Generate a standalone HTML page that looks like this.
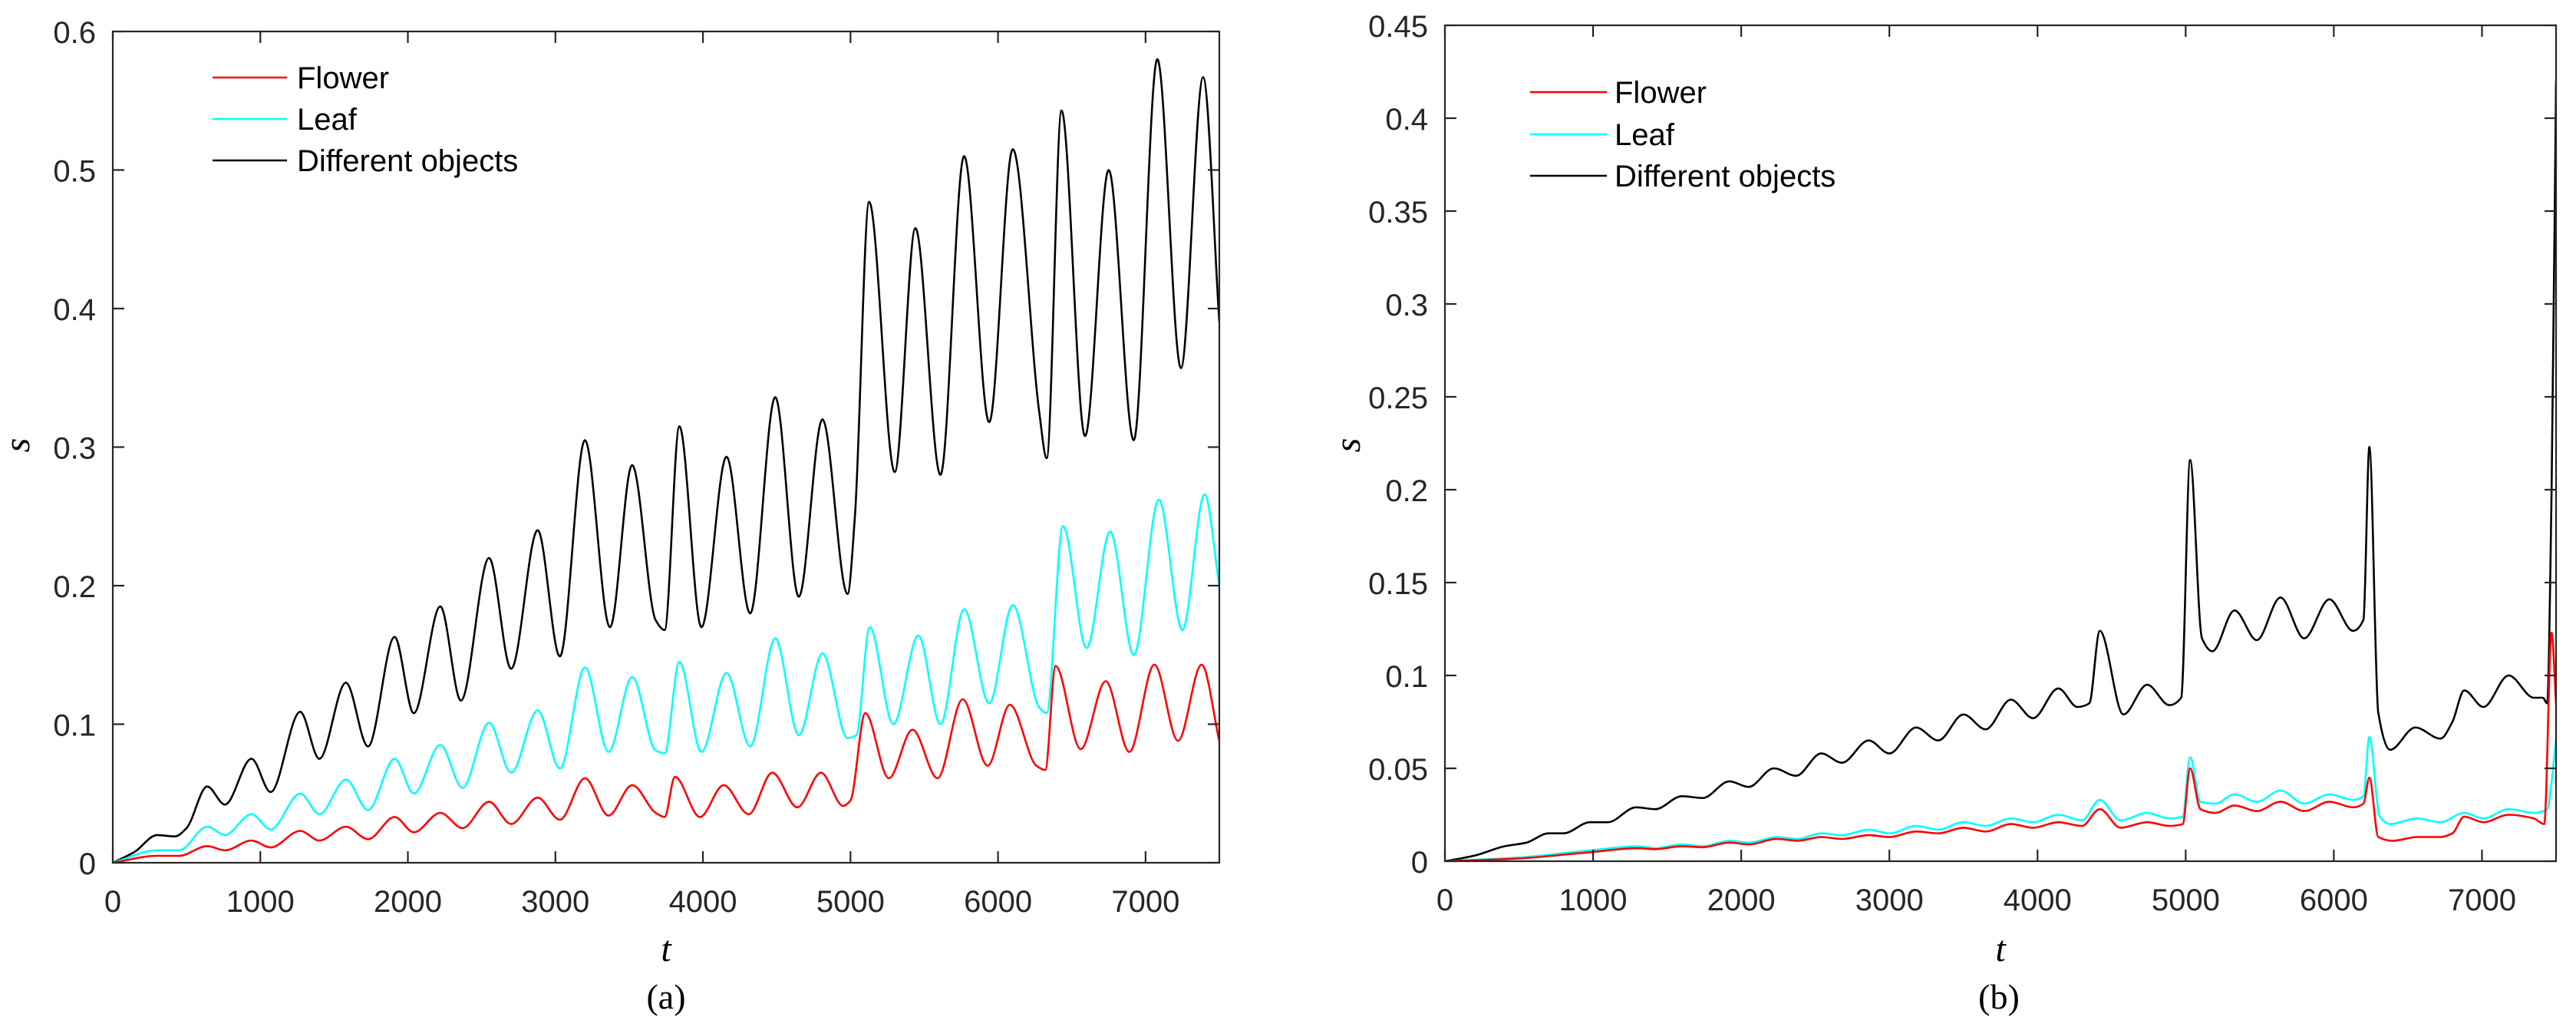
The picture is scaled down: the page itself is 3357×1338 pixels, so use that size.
<!DOCTYPE html>
<html><head><meta charset="utf-8"><style>
html,body{margin:0;padding:0;background:#fff;}
svg{display:block;}
text{font-family:"Liberation Sans",sans-serif;fill:#262626;}
.tk{font-size:40px;}
.lg{font-size:40px;fill:#000;}
.ser{font-family:"Liberation Serif",serif;font-style:italic;font-size:48px;fill:#000;}
.cap{font-family:"Liberation Serif",serif;font-size:46px;fill:#000;}
</style></head><body>
<svg id="chart" width="3357" height="1338" viewBox="0 0 3357 1338" xmlns="http://www.w3.org/2000/svg"></svg>
<script>
// ---- Panel (a) data ----
const aBlackT=[0,150,300,420,500,640,760,940,1070,1270,1400,1580,1730,1910,2040,2220,2360,2550,2700,2880,3030,3200,3370,3520,3680,3740,3840,3990,4160,4320,4490,4650,4810,4980,5030,5126,5300,5440,5610,5770,5940,6100,6280,6330,6430,6590,6750,6920,7080,7240,7390,7500];
const aBlackV=[0,0.008,0.020,0.019,0.025,0.055,0.042,0.075,0.051,0.109,0.075,0.130,0.084,0.163,0.108,0.185,0.117,0.220,0.140,0.240,0.149,0.305,0.170,0.287,0.175,0.168,0.315,0.170,0.293,0.180,0.336,0.192,0.320,0.194,0.250,0.477,0.282,0.458,0.280,0.510,0.318,0.515,0.325,0.292,0.543,0.308,0.500,0.305,0.580,0.357,0.567,0.390];
const aCyanT=[0,300,450,640,760,940,1070,1270,1400,1580,1730,1910,2040,2220,2370,2550,2700,2880,3030,3200,3360,3520,3680,3740,3840,3990,4160,4320,4490,4650,4810,4980,5040,5130,5290,5460,5610,5770,5940,6100,6280,6330,6440,6600,6760,6920,7090,7250,7400,7500];
const aCyanV=[0,0.009,0.009,0.026,0.020,0.035,0.024,0.050,0.035,0.060,0.038,0.075,0.050,0.085,0.054,0.101,0.065,0.110,0.068,0.141,0.080,0.134,0.081,0.079,0.145,0.080,0.137,0.084,0.162,0.092,0.151,0.090,0.092,0.170,0.100,0.164,0.100,0.183,0.115,0.186,0.112,0.108,0.243,0.155,0.239,0.150,0.262,0.168,0.266,0.200];
const aRedT=[0,300,450,640,760,940,1070,1270,1400,1580,1730,1910,2040,2220,2370,2550,2700,2880,3030,3200,3360,3520,3680,3740,3810,3980,4140,4310,4470,4640,4800,4950,5000,5100,5260,5420,5590,5760,5930,6080,6260,6320,6390,6560,6730,6890,7060,7220,7380,7500];
const aRedV=[0,0.005,0.005,0.012,0.009,0.016,0.011,0.023,0.016,0.026,0.017,0.033,0.022,0.036,0.025,0.044,0.028,0.047,0.031,0.061,0.034,0.056,0.036,0.033,0.062,0.033,0.056,0.035,0.065,0.040,0.065,0.041,0.045,0.108,0.061,0.096,0.061,0.118,0.070,0.114,0.070,0.067,0.142,0.082,0.131,0.080,0.143,0.088,0.143,0.088];
const aYTicks=[0,0.1,0.2,0.3,0.4,0.5,0.6];
const aYLabels=["0","0.1","0.2","0.3","0.4","0.5","0.6"];
// ---- Panel (b) data ----
const bBlackT=[0,200,400,550,700,800,980,1100,1290,1420,1600,1740,1920,2050,2220,2370,2540,2680,2860,3000,3180,3330,3500,3650,3820,3970,4140,4270,4350,4420,4580,4740,4890,4970,5030,5110,5180,5330,5480,5640,5800,5970,6130,6200,6240,6300,6380,6550,6720,6800,6880,7010,7180,7350,7410,7440,7470,7500];
const bBlackV=[0,0.003,0.008,0.010,0.015,0.015,0.021,0.021,0.029,0.028,0.035,0.034,0.043,0.040,0.050,0.046,0.058,0.053,0.065,0.058,0.072,0.065,0.079,0.071,0.087,0.077,0.093,0.083,0.085,0.124,0.079,0.095,0.084,0.088,0.216,0.120,0.113,0.135,0.119,0.142,0.120,0.141,0.124,0.130,0.223,0.080,0.060,0.072,0.066,0.075,0.092,0.083,0.100,0.088,0.088,0.085,0.200,0.420];
const bCyanT=[0,500,1000,1300,1420,1600,1740,1920,2050,2240,2380,2540,2680,2860,3000,3180,3330,3500,3650,3820,3970,4140,4300,4420,4560,4740,4890,4980,5030,5100,5200,5330,5480,5640,5800,5970,6130,6200,6240,6310,6380,6560,6720,6880,7010,7180,7350,7440,7500];
const bCyanV=[0,0.002,0.006,0.008,0.007,0.009,0.008,0.011,0.010,0.013,0.012,0.015,0.014,0.017,0.015,0.019,0.017,0.021,0.019,0.023,0.021,0.025,0.022,0.033,0.022,0.026,0.023,0.024,0.056,0.032,0.031,0.036,0.032,0.038,0.031,0.036,0.033,0.035,0.067,0.024,0.020,0.023,0.021,0.026,0.023,0.028,0.026,0.028,0.065];
const bRedT=[0,500,1000,1300,1420,1600,1740,1920,2050,2240,2380,2540,2680,2860,3000,3180,3330,3500,3650,3820,3970,4140,4300,4420,4560,4740,4890,4980,5030,5100,5200,5330,5480,5640,5800,5970,6130,6200,6240,6300,6400,6560,6720,6800,6880,7010,7180,7350,7420,7470,7500];
const bRedV=[0,0.0015,0.005,0.007,0.0065,0.008,0.0075,0.010,0.009,0.012,0.011,0.013,0.012,0.014,0.013,0.016,0.015,0.018,0.016,0.020,0.018,0.021,0.019,0.028,0.018,0.021,0.019,0.020,0.050,0.028,0.026,0.030,0.027,0.032,0.027,0.032,0.029,0.031,0.045,0.013,0.011,0.013,0.013,0.015,0.024,0.021,0.025,0.023,0.020,0.123,0.085];
const bYTicks=[0,0.05,0.1,0.15,0.2,0.25,0.3,0.35,0.4,0.45];
const bYLabels=["0","0.05","0.1","0.15","0.2","0.25","0.3","0.35","0.4","0.45"];
const xTicks=[0,1000,2000,3000,4000,5000,6000,7000];
const xLabels=["0","1000","2000","3000","4000","5000","6000","7000"];
const legendNames=["Flower","Leaf","Different objects"];

const NS="http://www.w3.org/2000/svg";
const svg=document.getElementById('chart');
function mk(tag,attrs,parent){const e=document.createElementNS(NS,tag);for(const k in attrs)e.setAttribute(k,attrs[k]);(parent||svg).appendChild(e);return e;}

function monoPath(px,py){
  const n=px.length;const d=[],m=new Array(n);
  for(let i=0;i<n-1;i++)d.push((py[i+1]-py[i])/(px[i+1]-px[i]));
  m[0]=d[0];m[n-1]=d[n-2];
  for(let i=1;i<n-1;i++){ if(d[i-1]*d[i]<=0)m[i]=0; else{const h0=px[i]-px[i-1],h1=px[i+1]-px[i];const w1=2*h1+h0,w2=h1+2*h0;m[i]=(w1+w2)/(w1/d[i-1]+w2/d[i]);} }
  let s="M"+px[0].toFixed(1)+","+py[0].toFixed(1);
  for(let i=0;i<n-1;i++){const h=(px[i+1]-px[i])/3;
    s+=" C"+(px[i]+h).toFixed(1)+","+(py[i]+m[i]*h).toFixed(1)+" "+(px[i+1]-h).toFixed(1)+","+(py[i+1]-m[i+1]*h).toFixed(1)+" "+px[i+1].toFixed(1)+","+py[i+1].toFixed(1);}
  return s;
}

function panel(cfg){
  const g=mk('g',{});
  
  
  const L=cfg.L,R=cfg.R,T=cfg.T,B=cfg.B;
  const xs=t=>L+(t/7500)*(R-L);
  const ys=v=>B-(v/cfg.ymax)*(B-T);
  const clip=mk('clipPath',{id:cfg.id+'clip'},g);mk('rect',{x:L,y:T,width:R-L,height:B-T},clip);
  // series
  const series=[[cfg.redT,cfg.redV,'#ff0000','flower-line'],[cfg.cyanT,cfg.cyanV,'#00ffff','leaf-line'],[cfg.blackT,cfg.blackV,'#000000','different-objects-line']];
  const sg=mk('g',{'clip-path':'url(#'+cfg.id+'clip)'},g);
  for(const s of [series[2],series[1],series[0]]){
    const p=mk('path',{d:monoPath(s[0].map(xs),s[1].map(ys)),fill:'none',stroke:s[2],'stroke-width':2.6,'stroke-linejoin':'round'},sg);
    
    
  }
  // box
  const box=mk('rect',{x:L,y:T,width:R-L,height:B-T,fill:'none',stroke:'#262626','stroke-width':2.2},g);
  
  
  const tl=15;
  xTicks.forEach((t,i)=>{const x=xs(t);
    mk('line',{x1:x,y1:B,x2:x,y2:B-tl,stroke:'#262626','stroke-width':2.2},g);
    mk('line',{x1:x,y1:T,x2:x,y2:T+tl,stroke:'#262626','stroke-width':2.2},g);
    const tx=mk('text',{x:x,y:B+64,'text-anchor':'middle',class:'tk'},g);tx.textContent=xLabels[i];
    
    
  });
  cfg.yTicks.forEach((v,i)=>{const y=ys(v);
    mk('line',{x1:L,y1:y,x2:L+tl,y2:y,stroke:'#262626','stroke-width':2.2},g);
    mk('line',{x1:R,y1:y,x2:R-tl,y2:y,stroke:'#262626','stroke-width':2.2},g);
    const tx=mk('text',{x:L-22,y:y+15,'text-anchor':'end',class:'tk'},g);tx.textContent=cfg.yLabels[i];
    
    
  });
  const xt=mk('text',{x:(L+R)/2,y:1252,'text-anchor':'middle',class:'ser'},g);xt.textContent='t';
  
  
  const yt=mk('text',{x:0,y:0,'text-anchor':'middle',class:'ser',transform:'translate('+cfg.sx+','+cfg.sy+') rotate(-90)'},g);yt.textContent='s';
  
  
  const cp=mk('text',{x:cfg.capX,y:1314,'text-anchor':'middle',class:'cap'},g);cp.textContent=cfg.cap;
  
  
  // legend
  const cols=['#ff0000','#00ffff','#000000'];
  legendNames.forEach((nm,i)=>{const y=cfg.legY[i];
    const lg=mk('g',{},g);
    
    
    mk('line',{x1:cfg.legX1,y1:y,x2:cfg.legX2,y2:y,stroke:cols[i],'stroke-width':2.6},lg);
    const t=mk('text',{x:cfg.legTX,y:y+14,class:'lg'},lg);t.textContent=nm;
  });
}
panel({id:'a',name:'panel-a',L:147,R:1589,T:41,B:1124,ymax:0.6,yTicks:aYTicks,yLabels:aYLabels,
  blackT:aBlackT,blackV:aBlackV,cyanT:aCyanT,cyanV:aCyanV,redT:aRedT,redV:aRedV,
  sx:38,sy:580,cap:'(a)',capX:868,legY:[101,155,209],legX1:277,legX2:374,legTX:387});
panel({id:'b',name:'panel-b',L:1883,R:3331,T:33,B:1122,ymax:0.45,yTicks:bYTicks,yLabels:bYLabels,
  blackT:bBlackT,blackV:bBlackV,cyanT:bCyanT,cyanV:bCyanV,redT:bRedT,redV:bRedV,
  sx:1772,sy:580,cap:'(b)',capX:2605,legY:[120,175,229],legX1:1994,legX2:2094,legTX:2104});
</script>
</body></html>
